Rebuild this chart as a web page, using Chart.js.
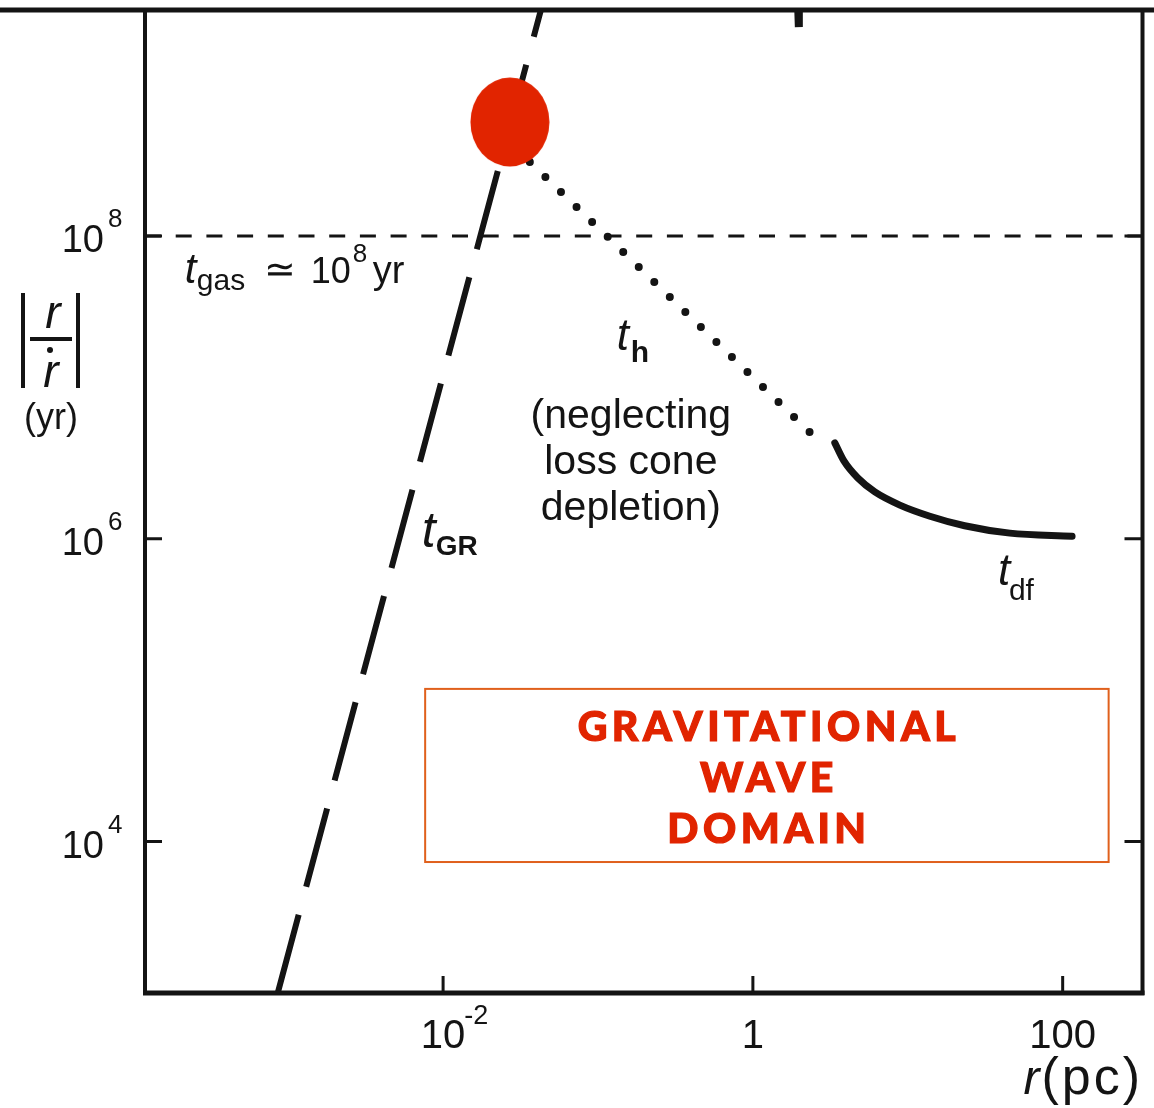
<!DOCTYPE html>
<html lang="en">
<head>
<meta charset="UTF-8">
<title>Orbital decay timescales</title>
<script src="https://cdn.jsdelivr.net/npm/chart.js@4.4.1/dist/chart.umd.min.js"></script>
<style>
  html, body { margin: 0; padding: 0; background: #fff; }
</style>
</head>
<body>
<canvas id="myChart" width="1154" height="1108"></canvas>
<script>
// axis ranges: r in pc, |r / r-dot| in yr
const xMin = 1.19e-4, xMax = 327.6;
const yMin = 1.0e3, yMax = 3.11e9;

const xTickValues = [0.01, 1, 100];
const xTickLabels = ['10^-2', '1', '100'];
const yTickValues = [1e4, 1e6, 1e8];
const yTickLabels = ['10^4', '10^6', '10^8'];

// t_GR, dashed
const tgrR = [8.56e-4, 0.0174, 0.0428];
const tgrT = [1.0e3, 1.0e8, 3.11e9];
// t_h, dotted
const thR = [0.0363, 0.114, 2.83];
const thT = [3.08e8, 1.0e8, 4.17e6];
// t_df, solid
const tdfR = [3.38, 3.86, 4.76, 6.13, 8.89, 13.9, 23.3, 45.6, 115];
const tdfT = [4.30e6, 3.28e6, 2.52e6, 2.04e6, 1.67e6, 1.41e6, 1.22e6, 1.09e6, 1.04e6];
// t_gas ~ 1e8 yr
const tgasR = [xMin, xMax];
const tgasT = [1e8, 1e8];
// piece of a curve poking in at the top edge
const stubR = [1.96, 1.98];
const stubT = [3.3e9, 2.40e9];
// marked crossing point
const markR = [0.027];
const markT = [5.66e8];

const ink = '#141414';
const red = '#e12400';
const FONT = "'Liberation Sans', Arial, sans-serif";

const pts = (xs, ys) => xs.map((x, i) => ({ x: x, y: ys[i] }));

// red ellipse used as the point marker
const disc = document.createElement('canvas');
disc.width = 80; disc.height = 90;
const dctx = disc.getContext('2d');
dctx.fillStyle = red;
dctx.beginPath();
dctx.ellipse(40, 45, 39.5, 44.5, 0, 0, Math.PI * 2);
dctx.fill();

function splitLabel(s) {
  const p = s.split('^');
  return { base: p[0], sup: p[1] || '' };
}

// text made of pieces placed relative to an anchor
function pieces(ctx, x, y, list) {
  ctx.textAlign = 'left';
  ctx.textBaseline = 'alphabetic';
  list.forEach(p => {
    ctx.font = p.f;
    ctx.letterSpacing = (p.ls || 0) + 'px';
    ctx.fillText(p.t, x + p.dx, y + p.dy);
  });
  ctx.letterSpacing = '0px';
}

const frame = {
  id: 'frame',
  afterDatasetsDraw(chart) {
    const ctx = chart.ctx;
    const a = chart.chartArea;
    const xs = chart.scales.x, ys = chart.scales.y;
    const px = v => xs.getPixelForValue(v);
    const py = v => ys.getPixelForValue(v);
    ctx.save();
    ctx.strokeStyle = ink;
    ctx.fillStyle = ink;
    ctx.lineCap = 'butt';

    // box lines
    ctx.lineWidth = 4;
    ctx.beginPath();
    ctx.moveTo(a.left, a.top); ctx.lineTo(a.left, a.bottom + 2);
    ctx.moveTo(a.right, a.top); ctx.lineTo(a.right, a.bottom + 2);
    ctx.stroke();
    ctx.lineWidth = 5;
    ctx.beginPath();
    ctx.moveTo(a.left - 2, a.bottom); ctx.lineTo(a.right + 2, a.bottom);
    ctx.moveTo(0, a.top); ctx.lineTo(chart.width, a.top);
    ctx.stroke();

    // inward ticks
    ctx.lineWidth = 3;
    ctx.beginPath();
    yTickValues.forEach(v => {
      const y = py(v);
      ctx.moveTo(a.left, y); ctx.lineTo(a.left + 17, y);
      ctx.moveTo(a.right, y); ctx.lineTo(a.right - 18, y);
    });
    xTickValues.forEach(v => {
      const x = px(v);
      ctx.moveTo(x, a.bottom); ctx.lineTo(x, a.bottom - 17);
    });
    ctx.stroke();

    // tick labels
    ctx.textBaseline = 'alphabetic';
    xTickValues.forEach((v, i) => {
      const l = splitLabel(xTickLabels[i]);
      const x = px(v);
      ctx.font = '40px ' + FONT;
      ctx.textAlign = 'center';
      ctx.fillText(l.base, x, a.bottom + 55);
      if (l.sup) {
        const w = ctx.measureText(l.base).width;
        ctx.font = '27px ' + FONT;
        ctx.textAlign = 'left';
        ctx.fillText(l.sup, x + w / 2 - 1, a.bottom + 31);
      }
    });
    yTickValues.forEach((v, i) => {
      const l = splitLabel(yTickLabels[i]);
      const y = py(v);
      ctx.font = '38px ' + FONT;
      ctx.textAlign = 'right';
      ctx.fillText(l.base, a.left - 41, y + 16);
      ctx.font = '26px ' + FONT;
      ctx.textAlign = 'left';
      ctx.fillText(l.sup, a.left - 37, y - 9);
    });

    // axis titles
    const rx = a.right;
    pieces(ctx, rx, a.bottom + 101, [
      { t: 'r', f: 'italic 48px ' + FONT, dx: -119, dy: 0 },
      { t: '(pc)', f: '52px ' + FONT, dx: -101, dy: 0, ls: 3 }
    ]);
    const cx = a.left - 94, y8 = py(1e8);
    ctx.lineWidth = 4;
    ctx.beginPath();
    ctx.moveTo(a.left - 122, y8 + 57); ctx.lineTo(a.left - 122, y8 + 152);
    ctx.moveTo(a.left - 67, y8 + 57); ctx.lineTo(a.left - 67, y8 + 152);
    ctx.moveTo(cx - 21, y8 + 103); ctx.lineTo(cx + 21, y8 + 103);
    ctx.stroke();
    ctx.beginPath();
    ctx.arc(cx - 1, y8 + 114, 3, 0, Math.PI * 2);
    ctx.fill();
    ctx.textAlign = 'center';
    ctx.font = 'italic 46px ' + FONT;
    ctx.fillText('r', cx + 2, y8 + 92);
    ctx.fillText('r', cx, y8 + 151);
    ctx.font = '36px ' + FONT;
    ctx.fillText('(yr)', cx, y8 + 193);

    // curve labels
    pieces(ctx, px(2.15e-4), py(4.9e7), [
      { t: 't', f: 'italic 42px ' + FONT, dx: 0, dy: 0 },
      { t: 'gas', f: '30px ' + FONT, dx: 12, dy: 7 },
      { t: '\u2243', f: '38px ' + FONT, dx: 79, dy: -1 },
      { t: '10', f: '36px ' + FONT, dx: 126, dy: 0 },
      { t: '8', f: '26px ' + FONT, dx: 168, dy: -21 },
      { t: 'yr', f: '38px ' + FONT, dx: 188, dy: 0 }
    ]);
    pieces(ctx, px(0.1324), py(1.77e7), [
      { t: 't', f: 'italic 44px ' + FONT, dx: 0, dy: 0 },
      { t: 'h', f: 'bold 30px ' + FONT, dx: 14, dy: 12 }
    ]);
    pieces(ctx, px(7.28e-3), py(8.83e5), [
      { t: 't', f: 'italic 50px ' + FONT, dx: 0, dy: 0 },
      { t: 'GR', f: 'bold 28px ' + FONT, dx: 14, dy: 8 }
    ]);
    pieces(ctx, px(38.2), py(4.95e5), [
      { t: 't', f: 'italic 44px ' + FONT, dx: 0, dy: 0 },
      { t: 'df', f: '30px ' + FONT, dx: 11, dy: 15 }
    ]);
    ctx.textAlign = 'center';
    ctx.font = '41px ' + FONT;
    const nx = px(0.163), ny = py(5.4e6);
    ['(neglecting', 'loss cone', 'depletion)'].forEach((s, i) => {
      ctx.fillText(s, nx, ny + i * 46);
    });

    // gravitational wave domain box
    const bx0 = px(7.66e-3), bx1 = px(198), by0 = py(1.02e5), by1 = py(7.33e3);
    ctx.strokeStyle = '#e0601c';
    ctx.lineWidth = 2;
    ctx.strokeRect(bx0, by0, bx1 - bx0, by1 - by0);
    ctx.fillStyle = red;
    ctx.strokeStyle = red;
    ctx.lineWidth = 1.2;
    ctx.font = "900 41px Lato, 'Liberation Sans', sans-serif";
    ctx.letterSpacing = '4.5px';
    ['GRAVITATIONAL', 'WAVE', 'DOMAIN'].forEach((s, i) => {
      const tx = (bx0 + bx1) / 2 + 2, ty = by0 + 52 + i * 51;
      ctx.fillText(s, tx, ty);
      ctx.strokeText(s, tx, ty);
    });
    ctx.letterSpacing = '0px';
    ctx.restore();
  }
};

const ctx = document.getElementById('myChart').getContext('2d');
const chart = new Chart(ctx, {
  type: 'scatter',
  data: {
    datasets: [
      {
        label: 'crossing',
        data: pts(markR, markT),
        pointStyle: disc,
        pointRadius: 1,
        showLine: false
      },
      {
        label: 't_GR',
        data: pts(tgrR, tgrT),
        showLine: true,
        borderColor: ink,
        borderWidth: 6,
        borderDash: [81, 29],
        pointRadius: 0,
        clip: 0
      },
      {
        label: 't_h',
        data: pts(thR, thT),
        showLine: true,
        borderColor: ink,
        borderWidth: 8,
        borderDash: [0, 21.6],
        borderCapStyle: 'round',
        pointRadius: 0,
        clip: 0
      },
      {
        label: 't_df',
        data: pts(tdfR, tdfT),
        showLine: true,
        borderColor: ink,
        borderWidth: 7,
        cubicInterpolationMode: 'monotone',
        borderCapStyle: 'round',
        pointRadius: 0,
        clip: 0
      },
      {
        label: 't_gas',
        data: pts(tgasR, tgasT),
        showLine: true,
        borderColor: ink,
        borderWidth: 3,
        borderDash: [16, 14.7],
        pointRadius: 0,
        clip: 0
      },
      {
        label: 'edge',
        data: pts(stubR, stubT),
        showLine: true,
        borderColor: ink,
        borderWidth: 8,
        pointRadius: 0,
        clip: 0
      }
    ]
  },
  options: {
    responsive: false,
    devicePixelRatio: 1,
    animation: false,
    events: [],
    layout: { autoPadding: false, padding: { left: 145, right: 11.5, top: 10, bottom: 115 } },
    plugins: { legend: { display: false }, tooltip: { enabled: false } },
    scales: {
      x: { type: 'logarithmic', min: xMin, max: xMax, display: false },
      y: { type: 'logarithmic', min: yMin, max: yMax, display: false }
    }
  },
  plugins: [frame]
});
</script>
</body>
</html>
